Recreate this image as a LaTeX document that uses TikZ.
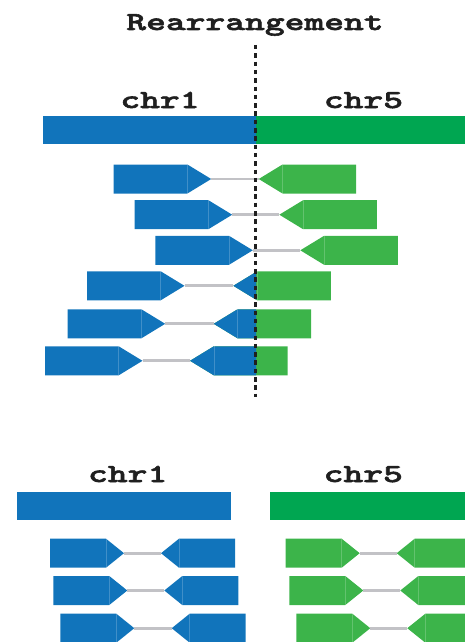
\documentclass[tikz,border=0pt]{standalone}
\usepackage{fontspec}
\usepackage{tikz}
\newfontfamily\chrfont{lmmonolt10-bold.otf}[FakeStretch=1.45, FakeBold=2.2]

\definecolor{chrblue}{HTML}{1174BB}
\definecolor{chrgreen}{HTML}{00A651}
\definecolor{readgreen}{HTML}{3CB44A}
\definecolor{insertgray}{HTML}{C2C2C6}

\tikzset{
  chrlabel/.style={font=\chrfont\fontsize{26}{30}\selectfont, text=black!88, inner sep=0pt, anchor=base},
  insert/.style={draw=insertgray, line width=2.7pt},
  seam/.style={draw=white, opacity=0.2, line width=0.6pt},
  breakline/.style={draw=black!88, line width=2.5pt, dash pattern=on 4.5pt off 3.8pt},
}

\begin{document}
\begin{tikzpicture}[x=1pt, y=-1pt]
\newcommand{\RectLen}{73.7} % read body length
\newcommand{\TipLen}{23.8} % arrow tip length
\newcommand{\ReadH}{29} % read height
\newcommand{\Brk}{256} % breakpoint

% forward read: colour, left x, top y, tip name
\newcommand{\fwdread}[4]{%
  \fill[#1] (#2,#3) -- ++(\RectLen,0) -- ++(\TipLen,\ReadH/2) -- ++(-\TipLen,\ReadH/2) -- ++(-\RectLen,0) -- cycle;
  \draw[seam] ({#2+\RectLen},#3) -- ++(0,\ReadH);
  \coordinate (#4) at ({#2+\RectLen+\TipLen},{#3+\ReadH/2});}
% reverse read: colour, tip x, top y, tip name
\newcommand{\revread}[4]{%
  \fill[#1] (#2,{#3+\ReadH/2}) -- ++(\TipLen,-\ReadH/2) -- ++(\RectLen,0) -- ++(0,\ReadH) -- ++(-\RectLen,0) -- cycle;
  \draw[seam] ({#2+\TipLen},#3) -- ++(0,\ReadH);
  \coordinate (#4) at (#2,{#3+\ReadH/2});}

\useasboundingbox (0,0) rectangle (465,642);
\clip (0,0) rectangle (465,642);

\coordinate (brktop) at (255.5,45);
\coordinate (brkbot) at (255.5,397);

% rearranged chromosome
\node[chrlabel] (title) at (255,30) {Rearrangement};
\node[chrlabel] (chrA) at (160,108) {chr1};
\node[chrlabel] (chrB) at (363.5,108) {chr5};
\fill[chrblue] (43,116) rectangle (\Brk,144);
\fill[chrgreen] (\Brk,116) rectangle (465,144);

% pairs spanning the junction
\fwdread{chrblue}{113.7}{164.5}{f1}
\revread{readgreen}{258.7}{164.5}{r1}
\fwdread{chrblue}{134.7}{200.2}{f2}
\revread{readgreen}{279.3}{200.2}{r2}
\fwdread{chrblue}{155.3}{235.8}{f3}
\revread{readgreen}{300.3}{235.8}{r3}

% split reads
\fwdread{chrblue}{87}{271.3}{f4}
\revread{readgreen}{233.3}{271.3}{r4}
\fwdread{chrblue}{67.7}{309.3}{f5}
\revread{readgreen}{213.7}{309.3}{r5}
\fwdread{chrblue}{45}{346.3}{f6}
\revread{readgreen}{190}{346.3}{r6}
\begin{scope}
  \clip (0,0) rectangle (\Brk,400);
  \revread{chrblue}{233.3}{271.3}{r4}
  \revread{chrblue}{213.7}{309.3}{r5}
  \revread{chrblue}{190}{346.3}{r6}
\end{scope}

\foreach \i in {1,...,6}
  \draw[insert] (f\i) -- (r\i);

\draw[breakline] (brktop) -- (brkbot);

% reference chromosomes
\renewcommand{\RectLen}{56}
\renewcommand{\TipLen}{18}

\node[chrlabel] (refA) at (127.7,482) {chr1};
\node[chrlabel] (refB) at (363.3,482) {chr5};
\fill[chrblue] (16.7,491.7) rectangle (231,520);
\fill[chrgreen] (270,491.7) rectangle (470,520);

\fwdread{chrblue}{50}{538.7}{bf1}
\revread{chrblue}{161}{538.7}{br1}
\fwdread{chrblue}{53.3}{576}{bf2}
\revread{chrblue}{164.3}{576}{br2}
\fwdread{chrblue}{60.3}{613.7}{bf3}
\revread{chrblue}{171.7}{613.7}{br3}

\fwdread{readgreen}{285.7}{538.7}{gf1}
\revread{readgreen}{396.7}{538.7}{gr1}
\fwdread{readgreen}{289.3}{576}{gf2}
\revread{readgreen}{400.3}{576}{gr2}
\fwdread{readgreen}{296.3}{613.7}{gf3}
\revread{readgreen}{407.3}{613.7}{gr3}

\foreach \i in {1,2,3} {
  \draw[insert] (bf\i) -- (br\i);
  \draw[insert] (gf\i) -- (gr\i);
}
\end{tikzpicture}
\end{document}
